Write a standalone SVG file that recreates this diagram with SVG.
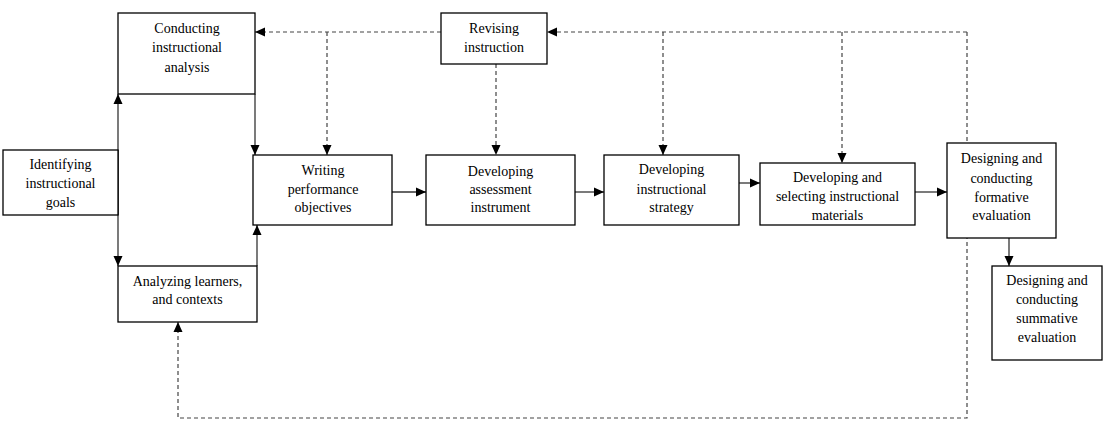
<svg xmlns="http://www.w3.org/2000/svg" width="1108" height="434" viewBox="0 0 1108 434">
<style>
.box{fill:#fff;stroke:#000;stroke-width:1.3}
.t{font-family:"Liberation Serif","Times New Roman",serif;font-size:14px;fill:#000;text-anchor:middle}
.c{fill:none;stroke:#333;stroke-width:1.3}
.d{fill:none;stroke:#444;stroke-width:1.2;stroke-dasharray:4,3}
</style>
<defs>
<marker id="ah" markerUnits="userSpaceOnUse" markerWidth="10" markerHeight="10" viewBox="0 0 10 10" refX="10" refY="5" orient="auto-start-reverse">
<path d="M0,0.5 L10,5 L0,9.5 Z" fill="#000"/>
</marker>
</defs>
<rect width="1108" height="434" fill="#fff"/>
<g id="connectors">
<path class="c" d="M118,215 V94" marker-end="url(#ah)"/>
<path class="c" d="M118,150 V266" marker-end="url(#ah)"/>
<path class="c" d="M255,94 V155" marker-end="url(#ah)"/>
<path class="c" d="M257,266 V225" marker-end="url(#ah)"/>
<path class="c" d="M392,192 H426" marker-end="url(#ah)"/>
<path class="c" d="M575,192 H604" marker-end="url(#ah)"/>
<path class="c" d="M739,183 H760" marker-end="url(#ah)"/>
<path class="c" d="M915,192 H947" marker-end="url(#ah)"/>
<path class="c" d="M1009,238 V266" marker-end="url(#ah)"/>
<path class="d" d="M441,32 H255" marker-end="url(#ah)"/>
<path class="d" d="M327,32 V155" marker-end="url(#ah)"/>
<path class="d" d="M496,64 V155" marker-end="url(#ah)"/>
<path class="d" d="M967,32 H547" marker-end="url(#ah)"/>
<path class="d" d="M663,32 V155" marker-end="url(#ah)"/>
<path class="d" d="M842,32 V163" marker-end="url(#ah)"/>
<path class="d" d="M967,32 V418 H178 V322" marker-end="url(#ah)"/>
</g>
<g id="identifying">
<rect class="box" x="3" y="150" width="115" height="65"/>
<text class="t" x="60.5" y="169">Identifying</text>
<text class="t" x="60.5" y="188">instructional</text>
<text class="t" x="60.5" y="207">goals</text>
</g>
<g id="conducting">
<rect class="box" x="118" y="13" width="137" height="81"/>
<text class="t" x="187" y="33">Conducting</text>
<text class="t" x="187" y="52">instructional</text>
<text class="t" x="187" y="72">analysis</text>
</g>
<g id="analyzing">
<rect class="box" x="118" y="266" width="139" height="56"/>
<text class="t" x="187.5" y="286">Analyzing learners,</text>
<text class="t" x="187.5" y="304">and contexts</text>
</g>
<g id="writing">
<rect class="box" x="253" y="155" width="139" height="70"/>
<text class="t" x="323" y="175">Writing</text>
<text class="t" x="323" y="194">performance</text>
<text class="t" x="323" y="212">objectives</text>
</g>
<g id="revising">
<rect class="box" x="441" y="13" width="106" height="51"/>
<text class="t" x="494" y="33">Revising</text>
<text class="t" x="494" y="52">instruction</text>
</g>
<g id="assessment">
<rect class="box" x="426" y="155" width="149" height="70"/>
<text class="t" x="500.5" y="176">Developing</text>
<text class="t" x="500.5" y="194">assessment</text>
<text class="t" x="500.5" y="212">instrument</text>
</g>
<g id="strategy">
<rect class="box" x="604" y="155" width="135" height="70"/>
<text class="t" x="671.5" y="174">Developing</text>
<text class="t" x="671.5" y="194">instructional</text>
<text class="t" x="671.5" y="212">strategy</text>
</g>
<g id="materials">
<rect class="box" x="760" y="163" width="155" height="62"/>
<text class="t" x="837.5" y="182">Developing and</text>
<text class="t" x="837.5" y="201">selecting instructional</text>
<text class="t" x="837.5" y="220">materials</text>
</g>
<g id="formative">
<rect class="box" x="947" y="143" width="109" height="95"/>
<text class="t" x="1001.5" y="163">Designing and</text>
<text class="t" x="1001.5" y="183">conducting</text>
<text class="t" x="1001.5" y="202">formative</text>
<text class="t" x="1001.5" y="220">evaluation</text>
</g>
<g id="summative">
<rect class="box" x="992" y="266" width="110" height="94"/>
<text class="t" x="1047" y="285">Designing and</text>
<text class="t" x="1047" y="304">conducting</text>
<text class="t" x="1047" y="323">summative</text>
<text class="t" x="1047" y="342">evaluation</text>
</g>
</svg>
